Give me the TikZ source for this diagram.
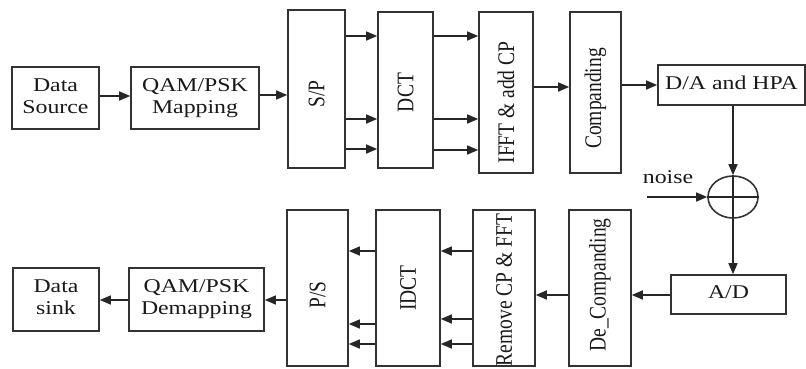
\documentclass[tikz,border=0pt]{standalone}
\usepackage{fontspec}
\setmainfont{Liberation Serif}
\usetikzlibrary{shapes.geometric,arrows.meta}
\newcommand\htxt[1]{\scalebox{1.22}[1]{\begin{tabular}{@{}c@{}}#1\end{tabular}}}
\newcommand\vtxt[1]{\rotatebox{90}{\scalebox{1}[1.22]{#1}}}
\begin{document}
\begin{tikzpicture}[x=1pt,y=-1pt,
  blk/.style={draw=black!80, line width=1.6pt, inner sep=0pt, text=black!90,
              font=\fontsize{19.5}{22}\selectfont},
  lbl/.style={inner sep=0pt, text=black!90, font=\fontsize{19.5}{22}\selectfont},
  arr/.style={draw=black!85, line width=1.4pt, -{Triangle[length=11pt,width=9pt]}},
  ln/.style={draw=black!85, line width=1.4pt}]
\useasboundingbox (0,0) rectangle (806,368);
% transmitter
\node[blk, minimum width=87, minimum height=62] (src) at (55.5,98) {\htxt{Data\\Source}};
\node[blk, minimum width=128, minimum height=62] (map) at (195,98) {\htxt{QAM/PSK\\Mapping}};
\node[blk, minimum width=57, minimum height=158] (sp) at (316.5,89) {\vtxt{S/P\hspace*{10pt}}};
\node[blk, minimum width=55, minimum height=156] (dct) at (405.5,90) {\vtxt{DCT\hspace*{5pt}}};
\node[blk, minimum width=54, minimum height=161] (ifft) at (506,92.5) {\vtxt{IFFT \& add CP\hspace*{20pt}}};
\node[blk, minimum width=51, minimum height=161] (comp) at (595.5,92.5) {\vtxt{Companding\hspace*{12pt}}};
\node[blk, minimum width=147, minimum height=40] (da) at (731.5,85) {\htxt{D/A and HPA}};
% channel
\node[blk, ellipse, minimum width=50, minimum height=42] (sum) at (733,197) {};
\draw[ln] (sum.west) -- (sum.east);
\draw[ln] (sum.north) -- (sum.south);
\coordinate (nz) at (647,197);
\node[lbl, anchor=base] (noise) at (668,183) {\scalebox{1.22}[1]{noise}};
% receiver
\node[blk, minimum width=115, minimum height=39] (ad) at (728.5,294.5) {\htxt{A/D}};
\node[blk, minimum width=62, minimum height=156] (decomp) at (600,288) {\vtxt{\hspace*{6pt}De\_Companding}};
\node[blk, minimum width=62, minimum height=156] (rem) at (504,288) {\vtxt{Remove CP \& FFT\hspace*{4pt}}};
\node[blk, minimum width=64, minimum height=156] (idct) at (408,288) {\vtxt{IDCT}};
\node[blk, minimum width=61, minimum height=156] (ps) at (317.5,288) {\vtxt{P/S\hspace*{14pt}}};
\node[blk, minimum width=135, minimum height=63] (demap) at (196.5,299.5) {\htxt{QAM/PSK\\Demapping}};
\node[blk, minimum width=86, minimum height=63] (sink) at (56,299.5) {\htxt{Data\\sink}};
% connectors, transmitter
\draw[arr] (src.east |- 0,96) -- (map.west |- 0,96);
\draw[arr] (map.east |- 0,95) -- (sp.west |- 0,95);
\foreach \yy in {36,119,149} \draw[arr] (sp.east |- 0,\yy) -- (dct.west |- 0,\yy);
\foreach \yy in {36,119,150} \draw[arr] (dct.east |- 0,\yy) -- (ifft.west |- 0,\yy);
\draw[arr] (ifft.east |- 0,87) -- (comp.west |- 0,87);
\draw[arr] (comp.east |- 0,85) -- (da.west |- 0,85);
\draw[arr] (da.south -| sum.north) -- (sum.north);
\draw[arr] (nz) -- (sum.west);
\draw[arr] (sum.south) -- (sum.south |- ad.north);
% connectors, receiver
\draw[arr] (ad.west |- 0,295) -- (decomp.east |- 0,295);
\draw[arr] (decomp.west |- 0,295) -- (rem.east |- 0,295);
\foreach \yy in {251,319,344} \draw[arr] (rem.west |- 0,\yy) -- (idct.east |- 0,\yy);
\foreach \yy in {251,324,344} \draw[arr] (idct.west |- 0,\yy) -- (ps.east |- 0,\yy);
\draw[arr] (ps.west |- 0,300) -- (demap.east |- 0,300);
\draw[arr] (demap.west |- 0,300) -- (sink.east |- 0,300);
\end{tikzpicture}
\end{document}
